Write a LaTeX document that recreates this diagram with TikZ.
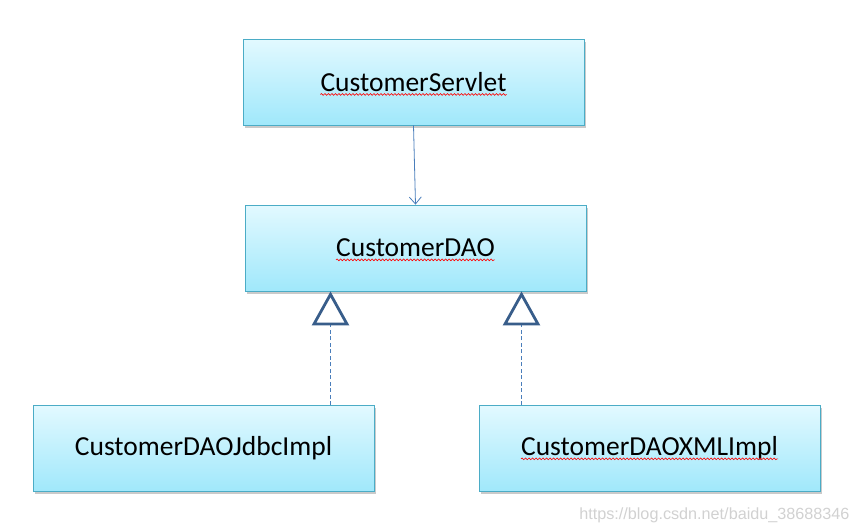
\documentclass[tikz,border=0pt]{standalone}
\usepackage{fontspec}
\setmainfont{Carlito}
\newfontfamily\markfont{Liberation Sans}
\usetikzlibrary{arrows.meta,shadows,decorations.pathmorphing}
\definecolor{boxtop}{RGB}{226,249,255}
\definecolor{boxbot}{RGB}{160,232,251}
\definecolor{boxline}{RGB}{75,172,198}
\definecolor{linkblue}{RGB}{74,126,187}
\definecolor{tridark}{RGB}{56,93,138}
\tikzset{
  classbox/.style={draw=boxline,line width=0.8pt,top color=boxtop,bottom color=boxbot,
    minimum width=341pt,minimum height=86pt,
    drop shadow={shadow xshift=1.5pt,shadow yshift=-2.5pt,fill=black!35,opacity=0.6}},
  classname/.style={inner sep=0pt,font=\fontsize{27.5}{30}\selectfont},
  spell/.style={red,line width=0.6pt,decorate,
    decoration={snake,amplitude=0.9pt,segment length=3.5pt}},
  realize/.style={draw=linkblue,line width=1.2pt,dash pattern=on 4pt off 2.5pt,
    -{Triangle[open,length=34pt,width=37pt,line width=2.8pt,color=tridark,fill=white]}}
}
\begin{document}
\begin{tikzpicture}[x=1pt,y=-1pt]
  \useasboundingbox (0,0) rectangle (861,531);
  \node[classbox] (servlet) at (413.5,82) {};
  \node[classbox] (dao) at (415.5,248) {};
  \node[classbox] (jdbc) at (203.5,448.5) {};
  \node[classbox] (xml) at (649.5,448.5) {};
  \node[classname] (servletname) at (servlet) {CustomerServlet};
  \node[classname] (daoname) at (dao) {CustomerDAO};
  \node[classname] (jdbcname) at (jdbc) {CustomerDAOJdbcImpl};
  \node[classname] (xmlname) at (xml) {CustomerDAOXMLImpl};
  % spell check marks
  \draw[spell] ([yshift=-3pt]servletname.base west) -- ([yshift=-3pt]servletname.base east);
  \draw[spell] ([yshift=-3pt]daoname.base west) -- ([yshift=-3pt]daoname.base east);
  \draw[spell] ([yshift=-3pt]xmlname.base west) -- ([yshift=-3pt]xmlname.base east);
  % links
  \draw[linkblue,line width=0.8pt,-{Straight Barb[length=7pt,width=12pt,line width=0.8pt]}]
    (servlet.south) -- (dao.north);
  \coordinate (jdbcup) at (330.5,405);
  \coordinate (xmlup) at (521.5,405);
  \draw[realize] (jdbcup) -- (jdbcup |- dao.south);
  \draw[realize] (xmlup) -- (xmlup |- dao.south);
  \node[anchor=base east,text=black!18,font=\markfont\fontsize{16.2}{18}\selectfont]
    (mark) at (853,519) {https://blog.csdn.net/baidu\_38688346};
\end{tikzpicture}
\end{document}
